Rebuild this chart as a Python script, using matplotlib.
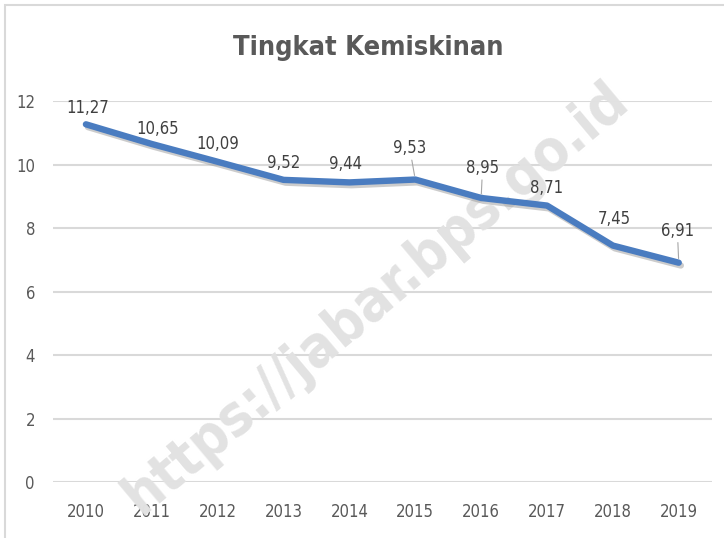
import numpy as np
import matplotlib.pyplot as plt
import matplotlib.patheffects as pe
from matplotlib.patches import Rectangle

tahun = ['2010', '2011', '2012', '2013', '2014', '2015', '2016', '2017', '2018', '2019']
kemiskinan = [11.27, 10.65, 10.09, 9.52, 9.44, 9.53, 8.95, 8.71, 7.45, 6.91]
# posisi label (dalam points) relatif ke titik
label_off = [(1, 5), (4, 4), (0, 6.5), (0, 6), (-3, 7), (-4, 16), (1, 15), (0, 6), (1, 13), (-1, 16.5)]
leader = [False, False, False, False, False, True, True, False, False, True]

plt.rcParams['font.family'] = ['DejaVu Sans']
plt.rcParams['font.stretch'] = 'condensed'
abu = '#595959'

fig = plt.figure(figsize=(7.24, 5.38), dpi=100)
ax = fig.add_axes([0.0732, 0.104, 0.9098, 0.708])

x = np.arange(len(tahun))
ax.plot(x, kemiskinan, color='#4a7cc0', lw=4.6, solid_capstyle='round', zorder=3,
        path_effects=[pe.SimpleLineShadow(offset=(1.5, -2), shadow_color='#9a9a9a', alpha=0.5), pe.Normal()])

for i, v in enumerate(kemiskinan):
    dx, dy = label_off[i]
    txt = ('%.2f' % v).replace('.', ',')
    arrow = None
    if leader[i]:
        arrow = dict(arrowstyle='-', color='#a6a6a6', lw=0.8, shrinkA=0, shrinkB=3)
    ax.annotate(txt, (x[i], v), xytext=(dx, dy), textcoords='offset points',
                ha='center', va='bottom', fontsize=12, color='#404040', zorder=4,
                arrowprops=arrow)

ax.set_xlim(-0.5, len(tahun) - 0.5)
ax.set_ylim(0, 12)
ax.set_yticks(range(0, 13, 2))
ax.set_xticks(x)
ax.set_xticklabels(tahun)
ax.grid(axis='y', color='#d9d9d9', lw=1.5)
ax.set_axisbelow(True)
for s in ax.spines.values():
    s.set_visible(False)
ax.tick_params(length=0, labelsize=12, labelcolor=abu)
ax.tick_params(axis='x', pad=15)
ax.tick_params(axis='y', pad=13)

fig.text(0.508, 0.91, 'Tingkat Kemiskinan', ha='center', va='center', fontsize=19.5,
         color=abu, fontweight='bold')

# watermark
ax.text(0.52, 0.445, 'https://jabar.bps.go.id', ha='center', va='center', rotation=40,
        fontsize=41, fontweight='bold', color='#e2e2e2', zorder=2,
        transform=fig.transFigure, clip_on=False)

fig.patches.append(Rectangle((5 / 724, -0.1), 1.1, 1 - 5 / 538 + 0.1, transform=fig.transFigure,
                             fill=False, edgecolor='#d9d9d9', lw=1.5))

plt.savefig('out.png', dpi=100)
